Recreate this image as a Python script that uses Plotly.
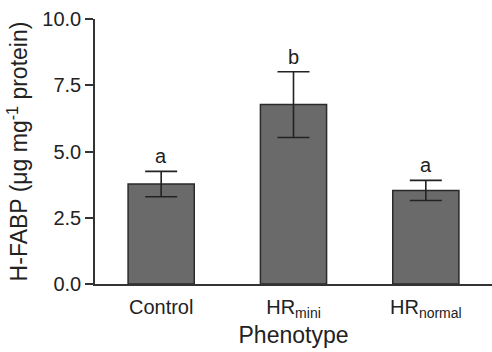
import plotly.graph_objects as go

categories = ["Control", "HR<sub>mini</sub>", "HR<sub>normal</sub>"]
means = [3.77, 6.77, 3.53]
sem = [0.48, 1.24, 0.38]
letters = ["a", "b", "a"]
y_ticks = [0, 2.5, 5, 7.5, 10]
y_ticklabels = ["0.0", "2.5", "5.0", "7.5", "10.0"]

x = list(range(len(categories)))
FONT = "Liberation Sans, Arial, Helvetica"

fig = go.Figure()
fig.add_trace(go.Bar(
    x=x, y=means, width=0.5,
    marker=dict(color="#6a6a6a", line=dict(color="#2a2a2a", width=1.5)),
    error_y=dict(type="data", array=sem, visible=True, color="#222222",
                 thickness=1.6, width=16),
    hoverinfo="skip",
))

for xi, m, s, t in zip(x, means, sem, letters):
    fig.add_annotation(x=xi, y=m + s, text=t, showarrow=False,
                       yanchor="bottom", yshift=2,
                       font=dict(family=FONT, size=20, color="#222222"))

fig.update_layout(
    width=492, height=352,
    margin=dict(l=95, r=0, t=19, b=68),
    plot_bgcolor="white", paper_bgcolor="white",
    showlegend=False,
    font=dict(family=FONT, color="#222222"),
)
fig.update_xaxes(
    range=[-0.5, 2.5], tickmode="array", tickvals=x, ticktext=categories,
    showline=True, linecolor="#333333", linewidth=1.5, ticks="",
    tickfont=dict(size=20), showgrid=False, zeroline=False, automargin=False,
    ticklabelstandoff=4,
    title=dict(text="Phenotype", font=dict(size=23), standoff=7),
)
fig.update_yaxes(
    range=[0, 10], tickmode="array", tickvals=y_ticks, ticktext=y_ticklabels,
    showline=True, linecolor="#333333", linewidth=1.5, ticks="outside",
    ticklen=8, tickwidth=1.5, tickcolor="#333333",
    tickfont=dict(size=20), showgrid=False, zeroline=False, automargin=False,
    title=dict(text="H-FABP (μg mg<sup>-1</sup> protein)", font=dict(size=23), standoff=8),
)

fig.write_html("out.html", config={"displayModeBar": False},
               post_script="document.body.style.margin='0';")
